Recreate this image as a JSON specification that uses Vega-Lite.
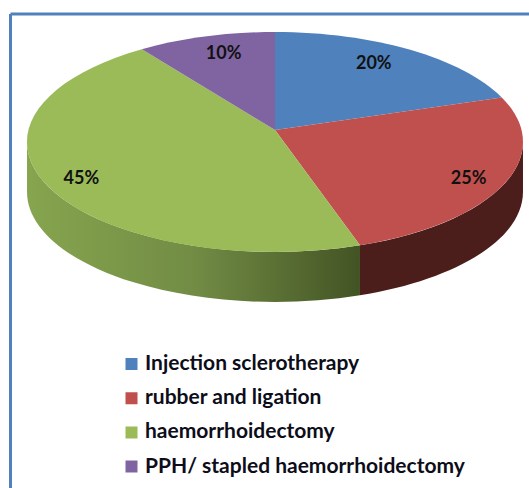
{
"$schema":"https://vega.github.io/schema/vega-lite/v6.json",
"width":519,"height":474.5,
"autosize":{"type":"none"},
"padding":{"left":10,"top":13.5,"right":0,"bottom":0},
"background":"white",
"config":{"view":{"stroke":null}},
"data":{"values":[
{"method":"Injection sclerotherapy","pct":20},
{"method":"rubber and ligation","pct":25},
{"method":"haemorrhoidectomy","pct":45},
{"method":"PPH/ stapled haemorrhoidectomy","pct":10}
]},
"transform":[
{"window":[{"op":"sum","field":"pct","as":"end"}]},
{"calculate":"2*PI*(datum.end-datum.pct)/100","as":"t0"},
{"calculate":"2*PI*datum.end/100","as":"t1"},
{"calculate":"round(100*246.5*sin(datum.t0)/(1+0.109*cos(datum.t0)))/100","as":"x0"},
{"calculate":"round(-100*(110*cos(datum.t0)+12)/(1+0.109*cos(datum.t0)))/100","as":"y0"},
{"calculate":"round(100*246.5*sin(datum.t1)/(1+0.109*cos(datum.t1)))/100","as":"x1"},
{"calculate":"round(-100*(110*cos(datum.t1)+12)/(1+0.109*cos(datum.t1)))/100","as":"y1"},
{"calculate":"'M0,-12L'+datum.x0+','+datum.y0+'A248,110 0 0,1 '+datum.x1+','+datum.y1+'Z'","as":"face"},
{"calculate":"max(datum.t0,acos(-0.109))","as":"v0"},
{"calculate":"min(datum.t1,2*PI-acos(-0.109))","as":"v1"},
{"calculate":"round(100*246.5*sin(datum.v0)/(1+0.109*cos(datum.v0)))/100","as":"xa"},
{"calculate":"round(-100*(110*cos(datum.v0)+12)/(1+0.109*cos(datum.v0)))/100","as":"ya"},
{"calculate":"round(100*246.5*sin(datum.v1)/(1+0.109*cos(datum.v1)))/100","as":"xb"},
{"calculate":"round(-100*(110*cos(datum.v1)+12)/(1+0.109*cos(datum.v1)))/100","as":"yb"},
{"calculate":"'M'+datum.xa+','+datum.ya+'A248,110 0 0,1 '+datum.xb+','+datum.yb+'L'+datum.xb+','+(datum.yb+50)+'A248,110 0 0,0 '+datum.xa+','+(datum.ya+50)+'Z'","as":"wall"},
{"calculate":"(datum.t0+datum.t1)/2","as":"tm"},
{"calculate":"datum.pct>=25?0.84:0.73","as":"rx"},
{"calculate":"datum.pct>=25?0.95:0.8","as":"ry"},
{"calculate":"246.5*datum.rx*sin(datum.tm)/(1+0.109*datum.ry*cos(datum.tm))","as":"lx"},
{"calculate":"(110*datum.ry*cos(datum.tm)+12)/(1+0.109*datum.ry*cos(datum.tm))","as":"ly"},
{"calculate":"datum.pct+'%'","as":"label"}
],
"layer":[
{"transform":[{"filter":"datum.v1>datum.v0 && datum.method==='haemorrhoidectomy'"}],
 "mark":{"type":"point","filled":true,"opacity":1,"size":4,"fill":{"gradient":"linear","x1":0,"x2":1,"y1":0,"y2":0,"stops":[{"offset":0,"color":"#86A54E"},{"offset":0.5,"color":"#728C45"},{"offset":1,"color":"#435424"}]}},
 "encoding":{
  "x":{"datum":0,"type":"quantitative","scale":{"domain":[-265,254],"nice":false,"zero":false},"axis":{"orient":"top","title":null,"labels":false,"ticks":false,"grid":false,"domainColor":"#4F81BD","domainWidth":3}},
  "y":{"datum":0,"type":"quantitative","scale":{"domain":[-346,128.5],"nice":false,"zero":false},"axis":{"orient":"left","title":null,"labels":false,"ticks":false,"grid":false,"domainColor":"#4F81BD","domainWidth":3}},
  "shape":{"field":"wall","type":"nominal","scale":null}}},
{"transform":[{"filter":"datum.v1>datum.v0 && datum.method==='rubber and ligation'"}],
 "mark":{"type":"point","filled":true,"opacity":1,"size":4,"fill":"#4C1E1B"},
 "encoding":{
  "x":{"datum":0,"type":"quantitative"},
  "y":{"datum":0,"type":"quantitative"},
  "shape":{"field":"wall","type":"nominal","scale":null}}},
{"mark":{"type":"point","filled":true,"opacity":1,"size":4},
 "encoding":{
  "x":{"datum":0,"type":"quantitative"},
  "y":{"datum":0,"type":"quantitative"},
  "shape":{"field":"face","type":"nominal","scale":null},
  "color":{"field":"method","type":"nominal","sort":null,
   "scale":{"domain":["Injection sclerotherapy","rubber and ligation","haemorrhoidectomy","PPH/ stapled haemorrhoidectomy"],"range":["#4F81BD","#C0504D","#9BBB59","#8064A2"]},
   "legend":{"title":null,"orient":"none","legendX":111,"legendY":340.5,"symbolType":"square","symbolSize":144,"symbolStrokeWidth":0,"labelFont":"Lato","labelFontWeight":"bold","labelFontSize":21,"labelColor":"#0d0d1a","labelLimit":400,"labelOffset":3,"clipHeight":20,"rowPadding":13.2}}
 }},
{"mark":{"type":"text","font":"Lato","fontWeight":"bold","fontSize":18,"color":"#111111"},
 "encoding":{
  "x":{"field":"lx","type":"quantitative"},
  "y":{"field":"ly","type":"quantitative"},
  "text":{"field":"label"}
 }}
]
}
